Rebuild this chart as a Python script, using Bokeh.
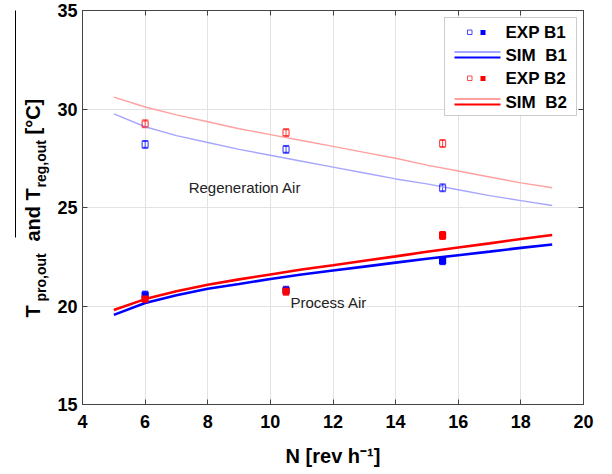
import numpy as np
from bokeh.plotting import figure
from bokeh.layouts import row
from bokeh.models import (ColumnDataSource, Whisker, TeeHead, Label, BoxAnnotation,
                          LinearAxis, FixedTicker, Range1d, CustomJSTickFormatter)
from bokeh.embed import file_html
from bokeh.resources import INLINE

# Wheel rotation speed of the measured runs [rev/h]
n_exp = [6.0, 10.5, 15.5]
# Measured outlet temperatures [°C]
exp_reg_b1 = [28.2, 27.95, 26.0]
exp_reg_b2 = [29.25, 28.8, 28.25]
exp_pro_b1 = [20.55, 20.8, 22.3]
exp_pro_b2 = [20.35, 20.75, 23.58]
exp_err = [0.2, 0.2, 0.2]

# Simulated outlet temperatures [°C]
n_sim = [5, 6, 7, 8, 9, 10, 11, 12, 13, 14, 15, 16, 17, 18, 19]
sim_reg_b1 = [29.75, 29.1, 28.65, 28.3, 27.95, 27.65, 27.35, 27.05, 26.75, 26.45, 26.2, 25.9, 25.6, 25.35, 25.1]
sim_reg_b2 = [30.6, 30.1, 29.7, 29.35, 29.0, 28.7, 28.4, 28.1, 27.8, 27.5, 27.15, 26.85, 26.55, 26.25, 26.0]
sim_pro_b1 = [19.55, 20.15, 20.55, 20.88, 21.12, 21.37, 21.6, 21.8, 22.0, 22.2, 22.4, 22.58, 22.76, 22.95, 23.12]
sim_pro_b2 = [19.8, 20.35, 20.75, 21.08, 21.35, 21.6, 21.85, 22.07, 22.3, 22.52, 22.75, 22.97, 23.18, 23.4, 23.6]

x_ticks = [4, 6, 8, 10, 12, 14, 16, 18, 20]
y_ticks = [15, 20, 25, 30, 35]

BLUE = "#0000ff"
RED = "#ff0000"
LIGHT_BLUE = "#a6a6ff"
LIGHT_RED = "#ffa0a0"
FONT = "Liberation Sans"

TITLE_W = 50          # width of the strip that holds the rotated y title
W, H = 612, 474

p = figure(width=W - TITLE_W, height=H, x_range=Range1d(4, 20), y_range=Range1d(15, 35),
           output_backend="svg", toolbar_location=None,
           min_border_left=82 - TITLE_W, min_border_right=29,
           min_border_top=10, min_border_bottom=70)
p.background_fill_color = "white"
p.border_fill_color = "white"
p.outline_line_color = "#444444"

# grid
for g in (p.xgrid, p.ygrid):
    g.grid_line_color = "#e3e3e3"
    g.grid_line_width = 1
p.xgrid.ticker = FixedTicker(ticks=x_ticks)
p.ygrid.ticker = FixedTicker(ticks=y_ticks)

def style_axis(ax, ticks, labels=True):
    ax.ticker = FixedTicker(ticks=ticks)
    ax.axis_line_color = "#444444"
    ax.major_tick_line_color = "#444444"
    ax.major_tick_in = 5
    ax.major_tick_out = 0
    ax.minor_tick_line_color = None
    if labels:
        ax.major_label_text_font = FONT
        ax.major_label_text_font_style = "bold"
        ax.major_label_text_font_size = "18px"
        ax.major_label_text_color = "black"
    else:
        ax.formatter = CustomJSTickFormatter(code="return ''")
        ax.major_label_text_font_size = "0px"
        ax.major_label_standoff = 0

style_axis(p.xaxis[0], x_ticks)
style_axis(p.yaxis[0], y_ticks)
p.xaxis[0].major_label_standoff = 10
p.yaxis[0].major_label_standoff = 5
p.xaxis[0].axis_label = "N [rev h\u207b\u00b9]"
p.xaxis[0].axis_label_text_font = FONT
p.xaxis[0].axis_label_text_font_style = "bold"
p.xaxis[0].axis_label_text_font_size = "20px"
p.xaxis[0].axis_label_text_color = "black"
p.xaxis[0].axis_label_standoff = 14

top_ax = LinearAxis()
right_ax = LinearAxis()
style_axis(top_ax, x_ticks, labels=False)
style_axis(right_ax, y_ticks, labels=False)
p.add_layout(top_ax, "above")
p.add_layout(right_ax, "right")

# simulated curves
p.line(n_sim, sim_reg_b1, line_color=LIGHT_BLUE, line_width=1.4)
p.line(n_sim, sim_reg_b2, line_color=LIGHT_RED, line_width=1.4)
p.line(n_sim, sim_pro_b1, line_color=BLUE, line_width=2.6)
p.line(n_sim, sim_pro_b2, line_color=RED, line_width=2.6)

# measured points with error bars
def points(vals, color, filled, alpha):
    lo = [v - e for v, e in zip(vals, exp_err)]
    hi = [v + e for v, e in zip(vals, exp_err)]
    src = ColumnDataSource(dict(x=n_exp, y=vals, lower=lo, upper=hi))
    w = Whisker(base="x", lower="lower", upper="upper", source=src,
                line_color=color, line_alpha=alpha, line_width=1,
                upper_head=TeeHead(size=6, line_color=color, line_alpha=alpha),
                lower_head=TeeHead(size=6, line_color=color, line_alpha=alpha))
    p.add_layout(w)
    p.scatter("x", "y", source=src, marker="square", size=6,
              line_color=color, line_alpha=alpha, line_width=1.2,
              fill_color=color if filled else None, fill_alpha=alpha)

points(exp_reg_b1, BLUE, False, 0.7)
points(exp_reg_b2, RED, False, 0.7)
points(exp_pro_b1, BLUE, True, 1.0)
points(exp_pro_b2, RED, True, 1.0)

# region captions
for txt, xx, yy in (("Regeneration Air", 7.39, 26.02), ("Process Air", 10.64, 20.18)):
    p.add_layout(Label(x=xx, y=yy, text=txt, text_font=FONT, text_font_size="15px",
                       text_color="#222222", text_baseline="middle"))

# helpers: page pixel -> frame-relative screen units (both frames share top/bottom)
FL, FB = 82, 404
def sx(cx):
    return cx - FL
def sy(cy):
    return FB - cy

def sbox(fig, conv_x, conv_y, l, r, t, b, **kw):
    fig.add_layout(BoxAnnotation(left=conv_x(l), right=conv_x(r), top=conv_y(t), bottom=conv_y(b),
                                 left_units="screen", right_units="screen",
                                 top_units="screen", bottom_units="screen", **kw))

# legend
sbox(p, sx, sy, 444, 576, 17, 115, fill_color="white", fill_alpha=1,
     line_color="#555555", line_width=1)
rows = [("EXP B1", BLUE, 32), ("SIM\u00a0\u00a0B1", BLUE, 54.5),
        ("EXP B2", RED, 78), ("SIM\u00a0\u00a0B2", RED, 101.5)]
for txt, col, cy in rows:
    p.add_layout(Label(x=sx(505), y=sy(cy), x_units="screen", y_units="screen", text=txt,
                       text_font=FONT, text_font_style="bold", text_font_size="17px",
                       text_color="black", text_baseline="middle"))
    light = LIGHT_BLUE if col == BLUE else LIGHT_RED
    if txt.startswith("EXP"):
        sbox(p, sx, sy, 467, 471.5, cy - 2.5, cy + 2, fill_alpha=0,
             line_color=col, line_alpha=0.7, line_width=1)
        sbox(p, sx, sy, 480, 485, cy - 2.5, cy + 2.5, fill_color=col, fill_alpha=1, line_color=None)
    else:
        sbox(p, sx, sy, 454, 500, cy - 4, cy - 2, fill_color=light, fill_alpha=1, line_color=None)
        sbox(p, sx, sy, 454, 500, cy + 1.5, cy + 3.5, fill_color=col, fill_alpha=1, line_color=None)

# strip on the left carrying the rotated y title with subscripts
t = figure(width=TITLE_W, height=H, x_range=Range1d(0, TITLE_W), y_range=Range1d(0, H),
           x_axis_type=None, y_axis_type=None, output_backend="svg", toolbar_location=None,
           min_border=0, outline_line_color=None)
t.background_fill_color = "white"
t.border_fill_color = "white"
t.xgrid.visible = False
t.ygrid.visible = False

def tx(cx):
    return cx

ypieces = [("T", 32, 317, "20px"), ("pro,out", 40, 301, "14px"), ("and", 32, 241, "20px"),
           ("T", 32, 200, "20px"), ("reg,out", 40, 187, "14px"), ("[\u00b0C]", 32, 134, "20px")]
for txt, bx, by, fs in ypieces:
    t.add_layout(Label(x=tx(bx), y=sy(by), x_units="screen", y_units="screen", text=txt,
                       angle=np.pi / 2, text_font=FONT, text_font_style="bold",
                       text_font_size=fs, text_color="black", text_align="left",
                       text_baseline="alphabetic"))
# overbar stroke above the title
sbox(t, tx, sy, 14.5, 15.5, 0, 237, fill_color="black", fill_alpha=1, line_color=None)

layout = row(t, p, spacing=0)
open("out.html", "w").write(file_html(layout, INLINE))
